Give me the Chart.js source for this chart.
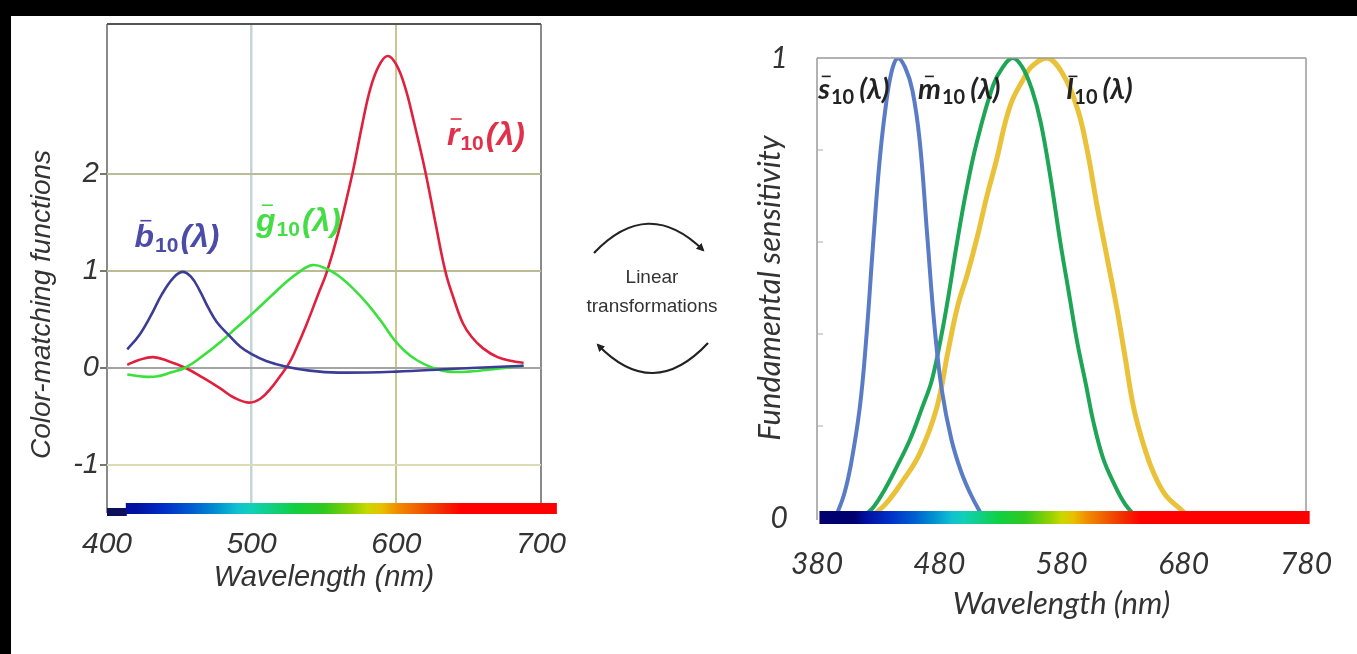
<!DOCTYPE html>
<html>
<head>
<meta charset="utf-8">
<script src="https://cdn.jsdelivr.net/npm/chart.js@4.4.0/dist/chart.umd.min.js"></script>
<style>
  body { margin: 0; width: 1357px; height: 654px; background: #fff; position: relative; overflow: hidden; }
  #topband { position: absolute; left: 0; top: 0; width: 1357px; height: 16px; background: #000; }
  #leftband { position: absolute; left: 0; top: 0; width: 11px; height: 654px; background: #000; }
  #cmf { position: absolute; left: 0; top: 0; }
  #cone { position: absolute; left: 700px; top: 0; }
  #arrows { position: absolute; left: 0; top: 0; }
  .mid { position: absolute; left: 562px; top: 262px; width: 180px; text-align: center;
         font: 19px "Liberation Sans", Arial, sans-serif; color: #333; line-height: 29px; }
</style>
</head>
<body>
<div id="topband"></div>
<div id="leftband"></div>
<canvas id="cmf" width="580" height="654"></canvas>
<canvas id="cone" width="657" height="654"></canvas>
<svg id="arrows" width="1357" height="654">
  <defs>
    <marker id="head" markerWidth="10" markerHeight="10" refX="6" refY="5" orient="auto" markerUnits="userSpaceOnUse">
      <path d="M0,1 L8,5 L0,9 z" fill="#222"/>
    </marker>
  </defs>
  <path d="M594,253 Q648,196 703,250" fill="none" stroke="#222" stroke-width="2.2" marker-end="url(#head)"/>
  <path d="M708,343 Q653,402 598,345" fill="none" stroke="#222" stroke-width="2.2" marker-end="url(#head)"/>
</svg>
<div class="mid">Linear<br>transformations</div>

<script>
// colour-matching functions (left)
const bWl  = [414, 422, 430, 438, 446, 452, 458, 464, 470, 476, 484, 492, 500, 510, 524, 540, 560, 600, 640, 688];
const bVal = [0.19, 0.33, 0.53, 0.76, 0.93, 0.99, 0.94, 0.80, 0.62, 0.47, 0.34, 0.22, 0.14, 0.07, 0.01, -0.03, -0.05, -0.04, -0.01, 0.02];

const gWl  = [414, 424, 434, 444, 454, 466, 478, 490, 502, 512, 522, 532, 542, 552, 560, 570, 580, 590, 598, 606, 614, 625, 636, 650, 670, 688];
const gVal = [-0.07, -0.09, -0.09, -0.05, 0.0, 0.12, 0.26, 0.42, 0.58, 0.72, 0.86, 0.98, 1.06, 1.02, 0.95, 0.82, 0.66, 0.47, 0.30, 0.17, 0.08, 0.0, -0.04, -0.04, -0.01, 0.02];

const rWl  = [414, 422, 432, 442, 454, 466, 478, 488, 498, 506, 514, 520, 526, 530, 538, 546, 552, 560, 570, 576, 582, 588, 594, 600, 606, 612, 620, 627, 634, 640, 646, 652, 660, 670, 680, 688];
const rVal = [0.03, 0.08, 0.11, 0.07, 0.0, -0.10, -0.21, -0.31, -0.36, -0.32, -0.20, -0.08, 0.05, 0.17, 0.45, 0.76, 0.99, 1.40, 2.03, 2.48, 2.88, 3.12, 3.22, 3.13, 2.90, 2.55, 2.03, 1.50, 0.99, 0.70, 0.46, 0.32, 0.20, 0.11, 0.07, 0.05];

// cone fundamentals (right)
const sWl  = [395, 402, 408, 415, 420, 426, 431, 436, 441, 446, 452, 458, 464, 470, 476, 482, 490, 498, 506, 516];
const sVal = [0.0, 0.05, 0.12, 0.24, 0.38, 0.60, 0.77, 0.89, 0.97, 1.0, 0.98, 0.93, 0.82, 0.62, 0.42, 0.28, 0.17, 0.10, 0.05, 0.0];

const mWl  = [415, 425, 435, 445, 456, 466, 474, 482, 488, 494, 502, 511, 524, 532, 540, 548, 556, 563, 571, 579, 586, 593, 600, 606, 614, 622, 632, 642];
const mVal = [0.0, 0.02, 0.06, 0.11, 0.17, 0.24, 0.30, 0.40, 0.49, 0.59, 0.71, 0.82, 0.94, 0.98, 1.0, 0.98, 0.93, 0.86, 0.74, 0.60, 0.49, 0.38, 0.29, 0.21, 0.13, 0.08, 0.03, 0.0];

const lWl  = [423, 436, 450, 464, 478, 487, 495, 503, 511, 519, 527, 534, 540, 548, 555, 568, 580, 593, 601, 609, 617, 625, 632, 639, 647, 655, 665, 677, 685];
const lVal = [0.0, 0.03, 0.08, 0.14, 0.24, 0.36, 0.46, 0.53, 0.61, 0.70, 0.78, 0.86, 0.91, 0.95, 0.98, 1.0, 0.97, 0.89, 0.80, 0.68, 0.57, 0.46, 0.35, 0.24, 0.16, 0.10, 0.05, 0.02, 0.0];

// axes
const cmfXTicks = [400, 500, 600, 700];
const cmfYTicks = [-1, 0, 1, 2];
const coneXTicks = [380, 480, 580, 680, 780];
const coneYTicks = [0, 0.2, 0.4, 0.6, 0.8, 1];

// spectrum strip under the plots
const specWl  = [380, 410, 420, 440, 460, 475, 490, 500, 510, 530, 550, 570, 580, 590, 600, 615, 630, 645, 780];
const specCol = ['#050540', '#00006e', '#0010a0', '#0030c8', '#0060d0', '#0090d0', '#10c0d0', '#10d0b8', '#10d090',
                 '#10d040', '#30c820', '#90d000', '#c8d800', '#e8c000', '#f09000', '#f06000', '#f03000', '#ff0000', '#ff0000'];

function pts(wl, val) { return wl.map((w, i) => ({ x: w, y: val[i] })); }

const spectrumBar = {
  id: 'spectrumBar',
  afterDatasetsDraw(chart, args, opts) {
    const { ctx, chartArea, scales: { x } } = chart;
    const x0 = x.getPixelForValue(opts.from), x1 = x.getPixelForValue(opts.to);
    const g = ctx.createLinearGradient(x0, 0, x1, 0);
    specWl.forEach((w, i) => {
      if (w >= opts.from && w <= opts.to) g.addColorStop((w - opts.from) / (opts.to - opts.from), specCol[i]);
    });
    ctx.save();
    if (opts.stub) {
      const s0 = x.getPixelForValue(opts.stub[0]), s1 = x.getPixelForValue(opts.stub[1]);
      ctx.fillStyle = '#10105a';
      ctx.fillRect(s0, chartArea.bottom + opts.top + 5, s1 - s0 + 1, opts.height - 3);
    }
    ctx.fillStyle = g;
    ctx.fillRect(x0, chartArea.bottom + opts.top, x1 - x0, opts.height);
    ctx.restore();
  }
};

const frame = {
  id: 'frame',
  afterDatasetsDraw(chart, args, opts) {
    const { ctx, chartArea: a } = chart;
    ctx.save();
    ctx.strokeStyle = opts.top;
    ctx.lineWidth = opts.width;
    ctx.beginPath(); ctx.moveTo(a.left, a.top); ctx.lineTo(a.right, a.top); ctx.stroke();
    if (opts.sides) {
      ctx.strokeStyle = opts.sides;
      ctx.beginPath();
      ctx.moveTo(a.left, a.top); ctx.lineTo(a.left, a.bottom + 2);
      ctx.moveTo(a.right, a.top); ctx.lineTo(a.right, a.bottom + 2);
      ctx.stroke();
    }
    if (opts.inTicks) {
      const y = chart.scales.y;
      ctx.strokeStyle = '#aaa'; ctx.lineWidth = 1;
      opts.inTicks.forEach(v => {
        const py = y.getPixelForValue(v);
        ctx.beginPath(); ctx.moveTo(a.left, py); ctx.lineTo(a.left + 6, py); ctx.stroke();
      });
    }
    // rotated side title, sits a bit below the middle of the axis
    if (opts.sideTitle) {
      const t = opts.sideTitle;
      ctx.translate(t.x, (a.top + a.bottom) / 2 + t.shift);
      ctx.rotate(-Math.PI / 2);
      ctx.font = t.font; ctx.fillStyle = '#333';
      ctx.textAlign = 'center'; ctx.textBaseline = 'middle';
      ctx.fillText(t.text, 0, 0);
    }
    ctx.restore();
  }
};

// label like  b̄10(λ)
const curveLabels = {
  id: 'curveLabels',
  afterDatasetsDraw(chart, args, opts) {
    const { ctx, scales: { x, y } } = chart;
    ctx.save();
    ctx.textBaseline = 'alphabetic';
    opts.items.forEach(it => {
      let px = x.getPixelForValue(it.wl), py = y.getPixelForValue(it.v);
      ctx.fillStyle = it.color; ctx.strokeStyle = it.color;
      ctx.font = opts.font;
      const w = ctx.measureText(it.letter).width;
      ctx.fillText(it.letter, px, py);
      ctx.lineWidth = 1.6;
      ctx.beginPath();
      ctx.moveTo(px + w * 0.3, py - opts.barY);
      ctx.lineTo(px + w * 0.3 + opts.barW, py - opts.barY);
      ctx.stroke();
      px += w + 1;
      ctx.font = opts.subFont;
      ctx.fillText('10', px, py + opts.subDrop);
      px += ctx.measureText('10').width + opts.gap;
      ctx.font = opts.font;
      ctx.fillText('(λ)', px, py);
    });
    ctx.restore();
  }
};

const leftFont = '"Liberation Sans", Arial, sans-serif';
const rightFont = 'Lato, "Open Sans", sans-serif';

new Chart(document.getElementById('cmf'), {
  type: 'line',
  data: {
    datasets: [
      { data: pts(bWl, bVal), borderColor: '#3c3c96' },
      { data: pts(gWl, gVal), borderColor: '#3ce03c' },
      { data: pts(rWl, rVal), borderColor: '#e0203c' }
    ]
  },
  options: {
    responsive: false,
    animation: false,
    parsing: false,
    layout: { padding: { top: 24, right: 39, left: 0, bottom: 0 } },
    elements: { point: { radius: 0 }, line: { borderWidth: 2.6, tension: 0.4 } },
    plugins: {
      legend: { display: false }, tooltip: { enabled: false },
      spectrumBar: { from: 413, to: 711, top: -10, height: 11, stub: [400, 413] },
      frame: { top: '#555', width: 2,
               sideTitle: { text: 'Color-matching functions', x: 42, shift: 36, font: 'italic 28px ' + leftFont } },
      curveLabels: {
        font: 'italic bold 32px ' + leftFont, subFont: 'bold 21px ' + leftFont,
        barY: 26, barW: 11, subDrop: 5, gap: 2,
        items: [
          { letter: 'b', wl: 419, v: 1.25, color: '#4b4ba8' },
          { letter: 'g', wl: 503, v: 1.41, color: '#44dd44' },
          { letter: 'r', wl: 635, v: 2.30, color: '#e0304a' }
        ]
      }
    },
    scales: {
      x: {
        type: 'linear', min: 400, max: 700,
        afterBuildTicks: s => { s.ticks = cmfXTicks.map(v => ({ value: v })); },
        afterFit: s => { s.height = 141; },
        border: { display: false },
        grid: {
          drawTicks: false,
          color: c => ({ 500: '#c6d4d6', 600: '#c8c88e' })[c.tick.value] || '#8a8a8a',
          lineWidth: c => (c.tick.value === 500 ? 2.5 : 2)
        },
        ticks: { padding: 14, color: '#333', font: { family: leftFont, size: 30, style: 'italic' } },
        title: { display: true, text: 'Wavelength (nm)', color: '#333', padding: { top: 0, bottom: 59 },
                 font: { family: leftFont, size: 29, style: 'italic' } }
      },
      y: {
        min: -1.5, max: 3.55,
        afterBuildTicks: s => { s.ticks = cmfYTicks.map(v => ({ value: v })); },
        afterFit: s => { s.width = 107; },
        border: { display: false },
        grid: {
          tickLength: 7, tickColor: '#777', lineWidth: 2,
          color: c => ({ 0: '#a4a4a4', '-1': '#dcdcb4' })[c.tick.value] || '#bcbc94'
        },
        ticks: { padding: 1, color: '#333', font: { family: leftFont, size: 29, style: 'italic' } },
        title: { display: false }
      }
    }
  },
  plugins: [frame, spectrumBar, curveLabels]
});

new Chart(document.getElementById('cone'), {
  type: 'line',
  data: {
    datasets: [
      { data: pts(sWl, sVal), borderColor: '#5a7cc6', borderWidth: 4 },
      { data: pts(mWl, mVal), borderColor: '#1ea656', borderWidth: 4 },
      { data: pts(lWl, lVal), borderColor: '#e9c23a', borderWidth: 5 }
    ]
  },
  options: {
    responsive: false,
    animation: false,
    parsing: false,
    layout: { padding: { top: 58, right: 51, left: 0, bottom: 0 } },
    elements: { point: { radius: 0 }, line: { tension: 0.4 } },
    plugins: {
      legend: { display: false }, tooltip: { enabled: false },
      spectrumBar: { from: 382, to: 783, top: -7, height: 13 },
      frame: { top: '#999', sides: '#9a9a9a', width: 1.5, inTicks: [0.2, 0.4, 0.6, 0.8] },
      curveLabels: {
        font: 'italic bold 29px ' + rightFont, subFont: 'bold 20px ' + rightFont,
        barY: 23, barW: 9, subDrop: 5, gap: 5,
        items: [
          { letter: 's', wl: 381, v: 0.91, color: '#222' },
          { letter: 'm', wl: 462.6, v: 0.91, color: '#222' },
          { letter: 'l', wl: 584, v: 0.91, color: '#222' }
        ]
      }
    },
    scales: {
      x: {
        type: 'linear', min: 380, max: 780,
        afterBuildTicks: s => { s.ticks = coneXTicks.map(v => ({ value: v })); },
        afterFit: s => { s.height = 136; },
        border: { display: false },
        grid: { display: false },
        ticks: { padding: 20, color: '#333', font: { family: rightFont, size: 30, style: 'italic' } },
        title: { display: true, text: 'Wavelength (nm)', color: '#333', padding: { top: 0, bottom: 31 },
                 font: { family: rightFont, size: 31, style: 'italic' } }
      },
      y: {
        min: 0, max: 1,
        afterBuildTicks: s => { s.ticks = coneYTicks.map(v => ({ value: v })); },
        afterFit: s => { s.width = 117; },
        border: { display: false },
        grid: { display: false },
        ticks: { padding: 21, color: '#333', font: { family: rightFont, size: 30, style: 'italic' },
                 callback: v => (v === 0 || v === 1 ? String(v) : '') },
        title: { display: true, text: 'Fundamental sensitivity', color: '#333', padding: { top: 51, bottom: 0 },
                 font: { family: rightFont, size: 31, style: 'italic' } }
      }
    }
  },
  plugins: [frame, spectrumBar, curveLabels]
});
</script>
</body>
</html>
